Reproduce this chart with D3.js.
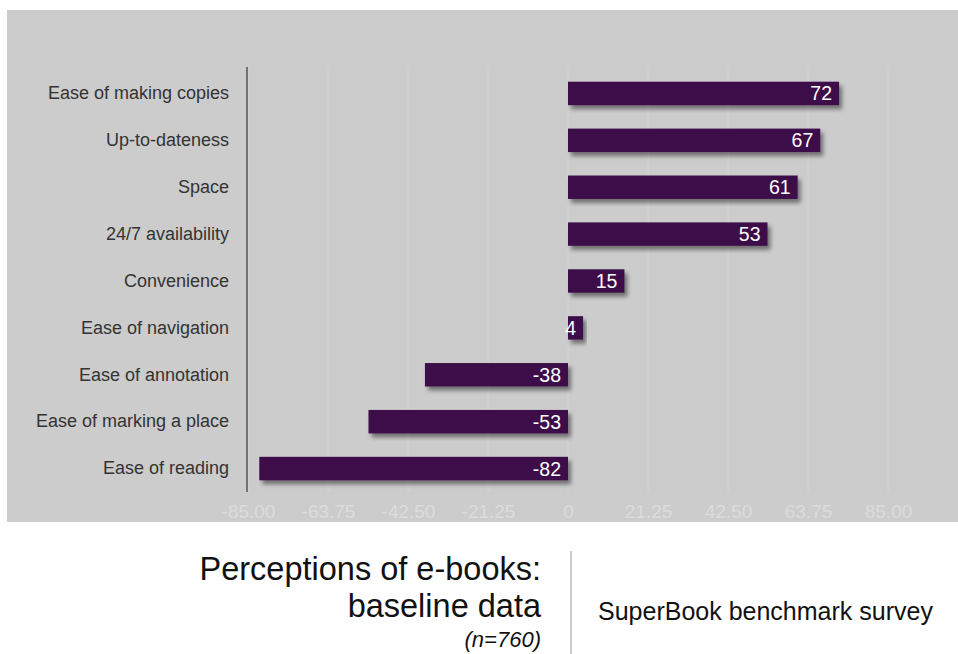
<!DOCTYPE html>
<html>
<head>
<meta charset="utf-8">
<script src="https://cdn.jsdelivr.net/npm/d3@7"></script>
<style>
  body { margin: 0; background: #fff; }
  svg { display: block; font-family: "Liberation Sans", Arial, sans-serif; }
</style>
</head>
<body>
<svg id="chart" width="958" height="654"></svg>
<script>
const categories = [
  "Ease of making copies", "Up-to-dateness", "Space", "24/7 availability",
  "Convenience", "Ease of navigation", "Ease of annotation",
  "Ease of marking a place", "Ease of reading"
];
const values = [72, 67, 61, 53, 15, 4, -38, -53, -82];
const tickValues = [-85, -63.75, -42.5, -21.25, 0, 21.25, 42.5, 63.75, 85];

const svg = d3.select("#chart");

// gray plot panel
svg.append("rect")
  .attr("x", 7).attr("y", 10)
  .attr("width", 951).attr("height", 512)
  .attr("fill", "#cccccc");

const defs = svg.append("defs");
defs.append("filter")
  .attr("id", "shadow")
  .attr("x", "-10%").attr("y", "-40%")
  .attr("width", "130%").attr("height", "200%")
  .append("feDropShadow")
  .attr("dx", 3).attr("dy", 4)
  .attr("stdDeviation", 2)
  .attr("flood-color", "#000")
  .attr("flood-opacity", 0.45);

const x = d3.scaleLinear().domain([-85, 85]).range([248, 888]);
const y = d3.scaleBand()
  .domain(categories)
  .range([70, 492])
  .paddingInner(0.5)
  .paddingOuter(0.25);

// gridlines
svg.append("g")
  .selectAll("line")
  .data(tickValues)
  .join("line")
  .attr("x1", d => x(d)).attr("x2", d => x(d))
  .attr("y1", 67).attr("y2", 492)
  .attr("stroke", "#d3d3d3")
  .attr("stroke-width", 1);

// x axis tick labels (faint)
const xAxis = d3.axisBottom(x)
  .tickValues(tickValues)
  .tickSize(0)
  .tickPadding(0)
  .tickFormat(d => d === 0 ? "0" : d.toFixed(2));

svg.append("g")
  .attr("transform", "translate(0,503)")
  .call(xAxis)
  .call(g => g.select(".domain").remove())
  .call(g => g.selectAll("text")
    .attr("dy", "0.8em")
    .attr("fill", "#dcdcdc")
    .style("font-size", "19px")
    .style("font-family", "'Liberation Sans', Arial, sans-serif"));

// bars
svg.append("g")
  .selectAll("rect")
  .data(values)
  .join("rect")
  .attr("x", d => x(Math.min(0, d)))
  .attr("y", (d, i) => y(categories[i]))
  .attr("width", d => Math.abs(x(d) - x(0)))
  .attr("height", y.bandwidth())
  .attr("fill", "#3d1149")
  .attr("filter", "url(#shadow)");

// value labels
svg.append("g")
  .selectAll("text")
  .data(values)
  .join("text")
  .attr("x", d => x(Math.max(0, d)) - 7)
  .attr("y", (d, i) => y(categories[i]) + y.bandwidth() / 2)
  .attr("dy", "0.36em")
  .attr("text-anchor", "end")
  .attr("fill", "#fff")
  .style("font-size", "19.5px")
  .text(d => d);

// y axis: line and category labels
const yAxis = d3.axisLeft(y).tickSize(0).tickPadding(18);
svg.append("g")
  .attr("transform", `translate(${x(-85) - 1},0)`)
  .call(yAxis)
  .call(g => g.select(".domain").remove())
  .call(g => g.selectAll("text")
    .attr("fill", "#333")
    .style("font-size", "18px")
    .style("font-family", "'Liberation Sans', Arial, sans-serif"));

svg.append("line")
  .attr("x1", x(-85) - 1).attr("x2", x(-85) - 1)
  .attr("y1", 67).attr("y2", 492)
  .attr("stroke", "#555")
  .attr("stroke-width", 1.5);

// footer
const foot = svg.append("g").attr("fill", "#111");
foot.append("text")
  .attr("x", 541).attr("y", 580)
  .attr("text-anchor", "end")
  .style("font-size", "32.5px")
  .text("Perceptions of e-books:");
foot.append("text")
  .attr("x", 541).attr("y", 617)
  .attr("text-anchor", "end")
  .style("font-size", "32.5px")
  .text("baseline data");
foot.append("text")
  .attr("x", 541).attr("y", 647)
  .attr("text-anchor", "end")
  .style("font-size", "22px")
  .style("font-style", "italic")
  .text("(n=760)");

svg.append("line")
  .attr("x1", 571).attr("x2", 571)
  .attr("y1", 551).attr("y2", 654)
  .attr("stroke", "#999")
  .attr("stroke-width", 1);

foot.append("text")
  .attr("x", 598).attr("y", 620)
  .style("font-size", "25px")
  .text("SuperBook benchmark survey");
</script>
</body>
</html>
